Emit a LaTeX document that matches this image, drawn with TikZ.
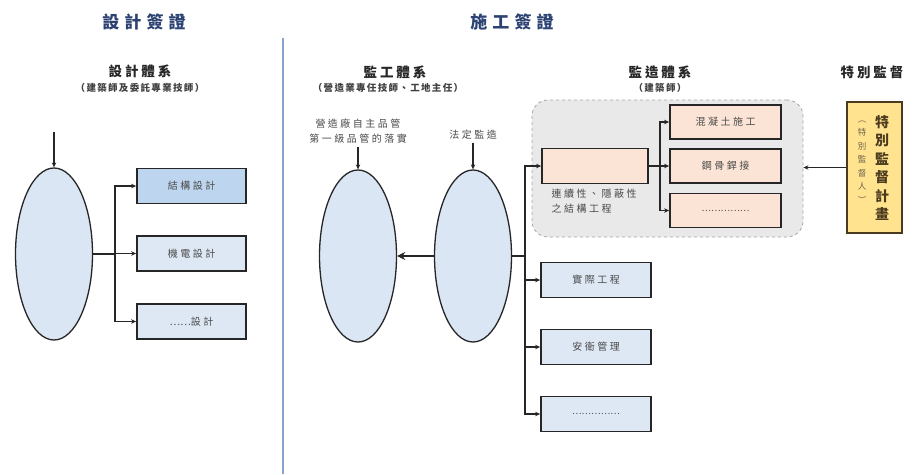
\documentclass[tikz,border=0pt]{standalone}
\usepackage{fontspec}
\setmainfont{Noto Sans CJK TC}
\usetikzlibrary{arrows.meta,shapes.geometric}
\definecolor{navy}{HTML}{2B4272}
\definecolor{ellfill}{HTML}{DAE6F4}
\definecolor{boxfill}{HTML}{DEE8F5}
\definecolor{boxfillb}{HTML}{BDD5EE}
\definecolor{orfill}{HTML}{FBE4D5}
\definecolor{grayfill}{HTML}{E9E9E9}
\definecolor{yfill}{HTML}{FFE38F}
\definecolor{yedge}{HTML}{4A3A1E}
\definecolor{divider}{HTML}{86A4CC}
\definecolor{txtgray}{HTML}{4A4A4A}
\tikzset{
  titletxt/.style={font=\fontsize{17}{19}\selectfont\bfseries\addfontfeatures{LetterSpace=30}, text=navy},
  headtxt/.style={font=\fontsize{13.5}{15}\selectfont\bfseries\addfontfeatures{LetterSpace=22}, text=black!85},
  subtxt/.style={font=\fontsize{9.5}{11}\selectfont\bfseries\addfontfeatures{LetterSpace=14}, text=black!75},
  notetxt/.style={font=\fontsize{10}{15}\selectfont\addfontfeatures{LetterSpace=25}, text=txtgray, align=center},
  ell/.style={ellipse, draw=black!85, line width=1.3pt, fill=ellfill, minimum width=77, minimum height=172, inner sep=0pt},
  bx/.style={rectangle, draw=black!85, line width=1.8pt, fill=boxfill, minimum width=110, minimum height=35, inner sep=0pt, font=\fontsize{10}{11}\selectfont\addfontfeatures{LetterSpace=25}, text=txtgray},
  dotsbx/.style={font=\fontsize{9}{11}\selectfont},
  obx/.style={bx, fill=orfill, minimum width=111, minimum height=34},
  ln/.style={line width=1.1pt, draw=black!85},
  arr/.style={ln, -{Stealth[length=5pt,width=4.5pt]}},
  bigarr/.style={draw=black!85, line width=2.8pt, -{Stealth[length=8pt,width=8pt]}},
}
\begin{document}
\begin{tikzpicture}[x=1pt,y=-1pt]
\useasboundingbox[fill=white] (0,0) rectangle (915,474);

% gray region
\node[rectangle, rounded corners=16pt, draw=black!35, dashed, line width=0.8pt, fill=grayfill, minimum width=271, minimum height=137] (grp) at (667.5,168.5) {};

% titles
\node[titletxt] (t1) at (144,22) {設計簽證};
\node[titletxt] (t2) at (512,22) {施工簽證};

% divider
\coordinate (v1) at (283,38);
\coordinate (v2) at (283,474);
\draw[divider, line width=1.8pt] (v1) -- (v2);

% design side
\node[headtxt] (h1) at (140,71) {設計體系};
\node[subtxt] (s1) at (140,88) {（建築師及委託專業技師）};
\node[ell] (e1) at (54,254) {};
\coordinate (in1) at (54,132);
\draw[arr] (in1) -- (e1.north);
\node[bx, fill=boxfillb, minimum width=109] (d1) at (191.5,186) {結構設計};
\node[bx, minimum width=109] (d2) at (191.5,253.5) {機電設計};
\node[bx, minimum width=109] (d3) at (191.5,321.5) {{\addfontfeatures{LetterSpace=0}……}設計};
\coordinate (j1) at (115,254);
\draw[ln] (e1.east) -- (j1);
\draw[arr] (j1) |- (d1.west);
\draw[arr] (j1) |- (d2.west);
\draw[arr] (j1) |- (d3.west);

% construction side: supervision system
\node[headtxt] (h2) at (395,72) {監工體系};
\node[subtxt] (s2) at (388,88) {（營造業專任技師、工地主任）};
\node[notetxt] (n1) at (358,131) {營造廠自主品管\\第一級品管的落實};
\node[notetxt] (n2) at (473,135) {法定監造};
\node[ell] (e2) at (358,256) {};
\node[ell] (e3) at (473,256) {};
\draw[arr] (n1) -- (e2.north);
\draw[arr] (n2) -- (e3.north);
\draw[bigarr] (e3.west) -- (e2.east);

\coordinate (j2) at (525,256);
\draw[ln] (e3.east) -- (j2);
\node[obx, minimum width=106, minimum height=35] (o0) at (595,166) {};
\node[notetxt, anchor=north west, align=left] (o0t) at (548,186) {連續性、隱蔽性\\之結構工程};
\node[bx] (m1) at (596,280) {實際工程};
\node[bx] (m2) at (596,347) {安衛管理};
\node[bx, dotsbx] (m3) at (596,414) {……………};
\draw[arr] (j2) |- (o0.west);
\draw[arr] (j2) |- (m1.west);
\draw[arr] (j2) |- (m2.west);
\draw[arr] (j2) |- (m3.west);

% architect supervision
\node[headtxt] (h3) at (660,72) {監造體系};
\node[subtxt] (s3) at (660,88) {（建築師）};
\node[obx] (o1) at (725.5,122) {混凝土施工};
\node[obx] (o2) at (725.5,166) {鋼骨銲接};
\node[obx, dotsbx] (o3) at (725.5,210.5) {……………};
\coordinate (j3) at (660,166);
\draw[ln] (o0.east) -- (j3);
\draw[arr] (j3) |- (o1.west);
\draw[arr] (j3) |- (o2.west);
\draw[arr] (j3) |- (o3.west);

% special supervision
\node[headtxt] (h4) at (872,72) {特別監督};
\node[rectangle, draw=yedge, line width=1.8pt, fill=yfill, minimum width=55, minimum height=131] (y1) at (874.5,167.5) {};
\node[font=\fontsize{14}{18.5}\selectfont\bfseries, text=yedge, align=center, inner sep=0pt] (y1a) at (882,168) {特\\別\\監\\督\\計\\畫};
\node[font=\fontsize{8.5}{13.5}\selectfont, text=yedge!80, align=center, inner sep=0pt] (y1b) at (862,162) {︵\\特\\別\\監\\督\\人\\︶};
\draw[arr] (y1.west) -- (y1.west -| grp.east);
\end{tikzpicture}
\end{document}
